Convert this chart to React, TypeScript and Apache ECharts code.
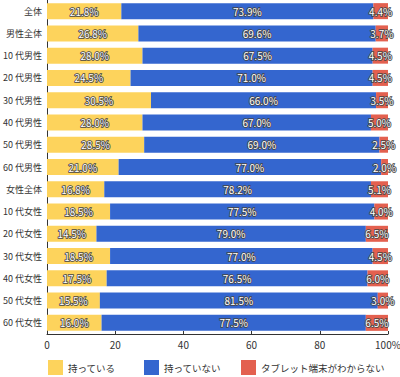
import React, { useEffect, useRef } from "react";
import * as echarts from "echarts";

const categories = [
  "全体", "男性全体", "10 代男性", "20 代男性", "30 代男性", "40 代男性", "50 代男性", "60 代男性",
  "女性全体", "10 代女性", "20 代女性", "30 代女性", "40 代女性", "50 代女性", "60 代女性",
];
const seriesNames = ["持っている", "持っていない", "タブレット端末がわからない"];
const have = [21.8, 26.8, 28.0, 24.5, 30.5, 28.0, 28.5, 21.0, 16.8, 18.5, 14.5, 18.5, 17.5, 15.5, 16.0];
const notHave = [73.9, 69.6, 67.5, 71.0, 66.0, 67.0, 69.0, 77.0, 78.2, 77.5, 79.0, 77.0, 76.5, 81.5, 77.5];
const unknown = [4.4, 3.7, 4.5, 4.5, 3.5, 5.0, 2.5, 2.0, 5.1, 4.0, 6.5, 4.5, 6.0, 3.0, 6.5];
const xTicks = ["0", "20", "40", "60", "80", "100%"];
const colors = ["#FDD35C", "#3466CF", "#E3604F"];

const FONT = "'Noto Sans CJK JP', 'Noto Sans', sans-serif";

export default function App() {
  const ref = useRef<HTMLDivElement>(null);
  useEffect(() => {
    if (!ref.current) return;
    const chart = echarts.init(ref.current, undefined, { renderer: "svg" });
    const label = {
      show: true,
      position: "inside" as const,
      formatter: (p: any) => p.value.toFixed(1) + "%",
      color: "#fff",
      fontSize: 10,
      fontFamily: FONT,
      textBorderColor: "#444",
      textBorderWidth: 1.6,
    };
    const mk = (name: string, data: number[], i: number) => ({
      name,
      type: "bar",
      stack: "total",
      data,
      barWidth: 16,
      itemStyle: { color: colors[i] },
      label,
    });
    const legendPos = [48, 144, 241];
    chart.setOption({
      animation: false,
      textStyle: { fontFamily: FONT },
      grid: { left: 47, right: 12, top: 0, bottom: 43, containLabel: false, outerBoundsMode: "none" },
      legend: seriesNames.map((n, i) => ({
        data: [n],
        left: legendPos[i] - 5,
        top: 355,
        itemWidth: 15,
        itemHeight: 15,
        icon: "rect",
        itemGap: 5,
        textStyle: { fontSize: 9.5, color: "#333", fontFamily: FONT },
      })),
      xAxis: {
        type: "value",
        min: 0,
        max: 100,
        interval: 20,
        splitLine: { show: false },
        axisLine: { show: true, lineStyle: { color: "#333" } },
        axisTick: { show: true, inside: true, length: 3, lineStyle: { color: "#333" } },
        axisLabel: {
          fontSize: 10,
          color: "#333",
          margin: 5,
          formatter: (v: number) => xTicks[Math.round(v / 20)],
        },
      },
      yAxis: {
        type: "category",
        inverse: true,
        data: categories,
        axisLine: { show: true, lineStyle: { color: "#333" } },
        axisTick: { show: false },
        axisLabel: { fontSize: 9, color: "#333", margin: 5 },
      },
      series: [mk(seriesNames[0], have, 0), mk(seriesNames[1], notHave, 1), mk(seriesNames[2], unknown, 2)],
    });
    return () => chart.dispose();
  }, []);
  return <div ref={ref} style={{ width: 400, height: 377, position: "absolute", left: 0, top: 0 }} />;
}
